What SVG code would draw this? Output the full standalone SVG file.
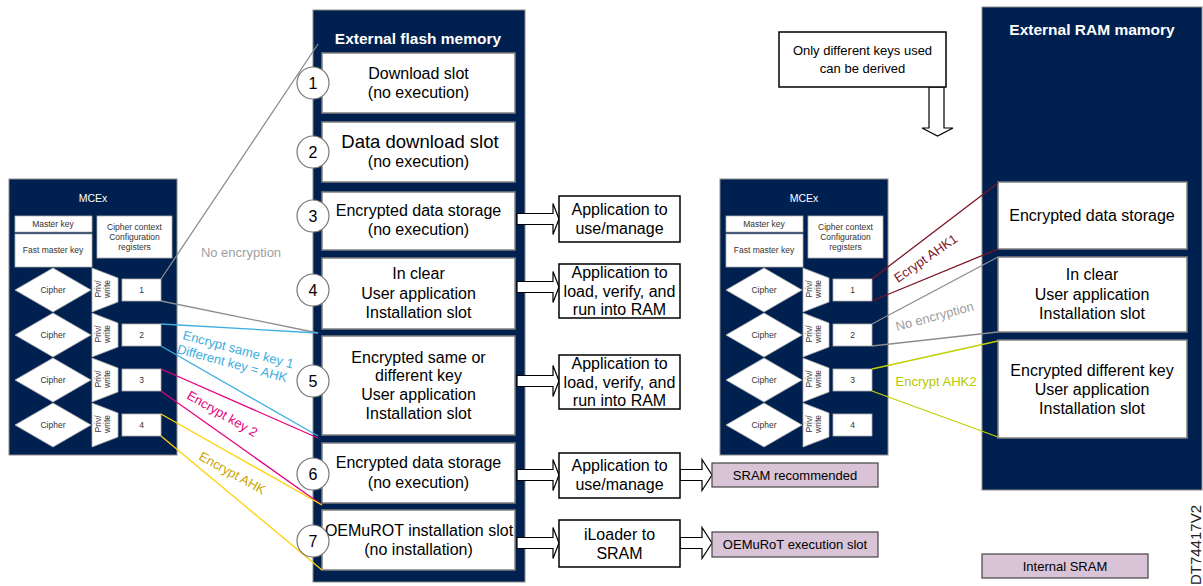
<svg xmlns="http://www.w3.org/2000/svg" width="1203" height="586" viewBox="0 0 1203 586">
<style>
text{font-family:"Liberation Sans",Arial,sans-serif;text-anchor:middle;fill:#000}
.nv{fill:#002050;stroke:#8a8a8a;stroke-width:1}
.wk{fill:#fff;stroke:#b0b0b0;stroke-width:0.8}
.slot{fill:#fff;stroke:#7f7f7f;stroke-width:1.5}
.app{fill:#fff;stroke:#000;stroke-width:1.5}
.pur{fill:#d9c3d6;stroke:#444;stroke-width:1.2}
.circ{fill:#fff;stroke:#777;stroke-width:1.2}
.arr{fill:#fff;stroke:#000;stroke-width:1.2}
.ttl{fill:#fff;font-weight:bold;font-size:15.5px}
.mc{fill:#fff;font-size:10.5px}
.s8{fill:#333;font-size:8.5px}
.s16{font-size:16px}
.s13{font-size:13px}
.ln{fill:none;stroke-width:1.3}
</style>

<!-- Left MCEx -->
<g id="mcex-left">
<rect class="nv" x="9" y="179" width="168" height="276"/>
<text class="mc" x="93" y="202">MCEx</text>
<rect class="wk" x="15" y="216" width="77" height="16"/>
<text class="s8" x="53" y="227">Master key</text>
<rect class="wk" x="15" y="234" width="77" height="33"/>
<text class="s8" x="53" y="253">Fast master key</text>
<rect class="wk" x="97" y="216" width="75" height="42"/>
<text class="s8" x="134.5" y="230">Cipher context</text>
<text class="s8" x="134.5" y="240">Configuration</text>
<text class="s8" x="134.5" y="250">registers</text>

<polygon class="wk" points="15,290 53,268 91,290 53,312"/>
<text class="s8" x="53" y="293">Cipher</text>
<polygon class="wk" points="92,268 118,278 118,302 92,312"/>
<text class="s8" transform="translate(101,289) rotate(-90)">Priv/</text>
<text class="s8" transform="translate(110,289) rotate(-90)">write</text>
<rect class="wk" x="122" y="279" width="39" height="22"/>
<text class="s8" x="141.5" y="293">1</text>

<polygon class="wk" points="15,335 53,313 91,335 53,357"/>
<text class="s8" x="53" y="338">Cipher</text>
<polygon class="wk" points="92,313 118,323 118,347 92,357"/>
<text class="s8" transform="translate(101,334) rotate(-90)">Priv/</text>
<text class="s8" transform="translate(110,334) rotate(-90)">write</text>
<rect class="wk" x="122" y="324" width="39" height="22"/>
<text class="s8" x="141.5" y="338">2</text>

<polygon class="wk" points="15,380 53,358 91,380 53,402"/>
<text class="s8" x="53" y="383">Cipher</text>
<polygon class="wk" points="92,358 118,368 118,392 92,402"/>
<text class="s8" transform="translate(101,379) rotate(-90)">Priv/</text>
<text class="s8" transform="translate(110,379) rotate(-90)">write</text>
<rect class="wk" x="122" y="369" width="39" height="22"/>
<text class="s8" x="141.5" y="383">3</text>

<polygon class="wk" points="15,425 53,403 91,425 53,447"/>
<text class="s8" x="53" y="428">Cipher</text>
<polygon class="wk" points="92,403 118,413 118,437 92,447"/>
<text class="s8" transform="translate(101,424) rotate(-90)">Priv/</text>
<text class="s8" transform="translate(110,424) rotate(-90)">write</text>
<rect class="wk" x="122" y="414" width="39" height="22"/>
<text class="s8" x="141.5" y="428">4</text>
</g>

<!-- Right MCEx -->
<g id="mcex-right">
<rect class="nv" x="720" y="179" width="168" height="276"/>
<text class="mc" x="804" y="202">MCEx</text>
<rect class="wk" x="726" y="216" width="77" height="16"/>
<text class="s8" x="764" y="227">Master key</text>
<rect class="wk" x="726" y="234" width="77" height="33"/>
<text class="s8" x="764" y="253">Fast master key</text>
<rect class="wk" x="808" y="216" width="75" height="42"/>
<text class="s8" x="845.5" y="230">Cipher context</text>
<text class="s8" x="845.5" y="240">Configuration</text>
<text class="s8" x="845.5" y="250">registers</text>

<polygon class="wk" points="726,290 764,268 802,290 764,312"/>
<text class="s8" x="764" y="293">Cipher</text>
<polygon class="wk" points="803,268 829,278 829,302 803,312"/>
<text class="s8" transform="translate(812,289) rotate(-90)">Priv/</text>
<text class="s8" transform="translate(821,289) rotate(-90)">write</text>
<rect class="wk" x="833" y="279" width="39" height="22"/>
<text class="s8" x="852.5" y="293">1</text>

<polygon class="wk" points="726,335 764,313 802,335 764,357"/>
<text class="s8" x="764" y="338">Cipher</text>
<polygon class="wk" points="803,313 829,323 829,347 803,357"/>
<text class="s8" transform="translate(812,334) rotate(-90)">Priv/</text>
<text class="s8" transform="translate(821,334) rotate(-90)">write</text>
<rect class="wk" x="833" y="324" width="39" height="22"/>
<text class="s8" x="852.5" y="338">2</text>

<polygon class="wk" points="726,380 764,358 802,380 764,402"/>
<text class="s8" x="764" y="383">Cipher</text>
<polygon class="wk" points="803,358 829,368 829,392 803,402"/>
<text class="s8" transform="translate(812,379) rotate(-90)">Priv/</text>
<text class="s8" transform="translate(821,379) rotate(-90)">write</text>
<rect class="wk" x="833" y="369" width="39" height="22"/>
<text class="s8" x="852.5" y="383">3</text>

<polygon class="wk" points="726,425 764,403 802,425 764,447"/>
<text class="s8" x="764" y="428">Cipher</text>
<polygon class="wk" points="803,403 829,413 829,437 803,447"/>
<text class="s8" transform="translate(812,424) rotate(-90)">Priv/</text>
<text class="s8" transform="translate(821,424) rotate(-90)">write</text>
<rect class="wk" x="833" y="414" width="39" height="22"/>
<text class="s8" x="852.5" y="428">4</text>
</g>

<!-- External flash memory -->
<g id="flash">
<rect class="nv" x="313" y="10" width="212" height="572" stroke="#555"/>
<text class="ttl" x="418" y="44">External flash memory</text>
<rect class="slot" x="322" y="53" width="193" height="60"/>
<text class="s16" x="418.5" y="79">Download slot</text>
<text class="s16" x="418.5" y="98">(no execution)</text>
<rect class="slot" x="322" y="122" width="193" height="60"/>
<text x="420" y="148" font-size="18.5px">Data download slot</text>
<text class="s16" x="418.5" y="167">(no execution)</text>
<rect class="slot" x="322" y="192" width="193" height="58"/>
<text class="s16" x="418.5" y="216">Encrypted data storage</text>
<text class="s16" x="418.5" y="235">(no execution)</text>
<rect class="slot" x="322" y="258" width="193" height="71"/>
<text class="s16" x="418.5" y="279">In clear</text>
<text class="s16" x="418.5" y="299">User application</text>
<text class="s16" x="418.5" y="318">Installation slot</text>
<rect class="slot" x="322" y="336" width="193" height="99"/>
<text class="s16" x="418.5" y="363">Encrypted same or</text>
<text class="s16" x="418.5" y="381">different key</text>
<text class="s16" x="418.5" y="400">User application</text>
<text class="s16" x="418.5" y="419">Installation slot</text>
<rect class="slot" x="322" y="443" width="193" height="60"/>
<text class="s16" x="418.5" y="468">Encrypted data storage</text>
<text class="s16" x="418.5" y="488">(no execution)</text>
<rect class="slot" x="322" y="510" width="193" height="60"/>
<text class="s16" x="419" y="536">OEMuROT installation slot</text>
<text class="s16" x="418.5" y="555">(no installation)</text>
</g>

<!-- External RAM memory -->
<g id="ram">
<rect class="nv" x="982" y="7" width="220" height="483" stroke="#555"/>
<text class="ttl" x="1092" y="35">External RAM mamory</text>
<rect class="slot" x="998" y="182" width="189" height="67"/>
<text class="s16" x="1092" y="221">Encrypted data storage</text>
<rect class="slot" x="998" y="257" width="189" height="75"/>
<text class="s16" x="1092" y="280">In clear</text>
<text class="s16" x="1092" y="300">User application</text>
<text class="s16" x="1092" y="319">Installation slot</text>
<rect class="slot" x="998" y="340" width="189" height="98"/>
<text class="s16" x="1092" y="376">Encrypted different key</text>
<text class="s16" x="1092" y="395">User application</text>
<text class="s16" x="1092" y="414">Installation slot</text>
</g>

<!-- Connectors -->
<g id="connectors">
<g stroke="#8c8c8c" class="ln">
<line x1="161" y1="279" x2="318" y2="44"/>
<line x1="161" y1="301" x2="318" y2="333"/>
<line x1="872" y1="324" x2="998" y2="257"/>
<line x1="872" y1="346" x2="998" y2="332"/>
</g>
<g stroke="#3aaee0" class="ln">
<line x1="161" y1="324" x2="318" y2="333"/>
<line x1="161" y1="346" x2="318" y2="436"/>
</g>
<g stroke="#e5007d" class="ln">
<line x1="161" y1="369" x2="318" y2="438"/>
<line x1="161" y1="391" x2="322" y2="505"/>
</g>
<g stroke="#ffd100" class="ln">
<line x1="161" y1="414" x2="322" y2="505"/>
<line x1="161" y1="436" x2="322" y2="570"/>
</g>
<g stroke="#7b1526" class="ln">
<line x1="872" y1="279" x2="998" y2="183"/>
<line x1="872" y1="301" x2="998" y2="249"/>
</g>
<g stroke="#c3d000" class="ln">
<line x1="872" y1="369" x2="998" y2="341"/>
<line x1="872" y1="391" x2="998" y2="437"/>
</g>

<text class="s13" x="241" y="257" style="fill:#a0a0a0">No encryption</text>
<g transform="translate(182,339) rotate(15)">
<text class="s13" x="0" y="0" style="fill:#3aaee0;text-anchor:start">Encrypt same key 1</text>
<text class="s13" x="-2" y="15" style="fill:#3aaee0;text-anchor:start">Different key = AHK</text>
</g>
<text class="s13" transform="translate(186,398) rotate(30)" style="fill:#e5007d;text-anchor:start">Encrypt key 2</text>
<text class="s13" transform="translate(198,459) rotate(29)" style="fill:#c9a400;text-anchor:start">Encrypt AHK</text>
<text class="s13" transform="translate(898,283) rotate(-35)" style="fill:#7b1526;text-anchor:start">Ecrypt AHK1</text>
<text class="s13" transform="translate(897,331) rotate(-15)" style="fill:#a0a0a0;text-anchor:start">No encryption</text>
<text class="s13" x="936" y="386" style="fill:#b5c800">Encrypt AHK2</text>

<path class="arr" d="M517,213.5H553V203.5L559,219L553,234.5V224.5H517Z"/>
<path class="arr" d="M517,281.5H553V271.5L559,287L553,302.5V292.5H517Z"/>
<path class="arr" d="M517,375.5H553V365.5L559,381L553,396.5V386.5H517Z"/>
<path class="arr" d="M517,469.5H553V459.5L559,475L553,490.5V480.5H517Z"/>
<path class="arr" d="M517,537.5H553V527.5L559,543L553,558.5V548.5H517Z"/>
<path class="arr" d="M680,469.5H702V459.5L712,475L702,490.5V480.5H680Z"/>
<path class="arr" d="M680,537.5H702V527.5L712,543L702,558.5V548.5H680Z"/>
<path class="arr" d="M929,87V128H922L937.5,136L953,128H944V87Z"/>
</g>

<!-- Step circles -->
<g id="steps">
<circle class="circ" cx="313" cy="83" r="16"/><text class="s16" x="313" y="89">1</text>
<circle class="circ" cx="313" cy="152" r="16"/><text class="s16" x="313" y="158">2</text>
<circle class="circ" cx="313" cy="216" r="16"/><text class="s16" x="313" y="222">3</text>
<circle class="circ" cx="313" cy="290" r="16"/><text class="s16" x="313" y="296">4</text>
<circle class="circ" cx="313" cy="381" r="16"/><text class="s16" x="313" y="387">5</text>
<circle class="circ" cx="313" cy="474" r="16"/><text class="s16" x="313" y="480">6</text>
<circle class="circ" cx="313" cy="541" r="16"/><text class="s16" x="313" y="547">7</text>
</g>

<!-- Application boxes -->
<g id="app-1"><rect class="app" x="559" y="196" width="121" height="46"/>
<text class="s16" x="619.5" y="215">Application to</text><text class="s16" x="619.5" y="234">use/manage</text></g>
<g id="app-2"><rect class="app" x="559" y="264" width="121" height="54"/>
<text class="s16" x="619.5" y="278">Application to</text><text class="s16" x="619.5" y="297">load, verify, and</text><text class="s16" x="619.5" y="315">run into RAM</text></g>
<g id="app-3"><rect class="app" x="559" y="355" width="121" height="54"/>
<text class="s16" x="619.5" y="369">Application to</text><text class="s16" x="619.5" y="388">load, verify, and</text><text class="s16" x="619.5" y="406">run into RAM</text></g>
<g id="app-4"><rect class="app" x="559" y="453" width="121" height="45"/>
<text class="s16" x="619.5" y="471">Application to</text><text class="s16" x="619.5" y="490">use/manage</text></g>
<g id="app-5"><rect class="app" x="559" y="520" width="121" height="47"/>
<text class="s16" x="619.5" y="540">iLoader to</text><text class="s16" x="619.5" y="559">SRAM</text></g>

<g id="sram-recommended"><rect class="pur" x="712" y="463" width="166" height="24"/>
<text class="s13" x="795" y="480">SRAM recommended</text></g>
<g id="oemurot-exec"><rect class="pur" x="712" y="532" width="166" height="25"/>
<text class="s13" x="795" y="549">OEMuRoT execution slot</text></g>
<g id="internal-sram"><rect class="pur" x="982" y="554" width="166" height="24"/>
<text class="s13" x="1065" y="571">Internal SRAM</text></g>

<g id="note"><rect class="app" x="779" y="32" width="167" height="55" stroke-width="1.2"/>
<text class="s13" x="862.5" y="55">Only different keys used</text>
<text class="s13" x="862.5" y="73">can be derived</text></g>

<text transform="translate(1201,505) rotate(-90)" style="text-anchor:end;font-size:15px;fill:#222">DT74417V2</text>
</svg>
